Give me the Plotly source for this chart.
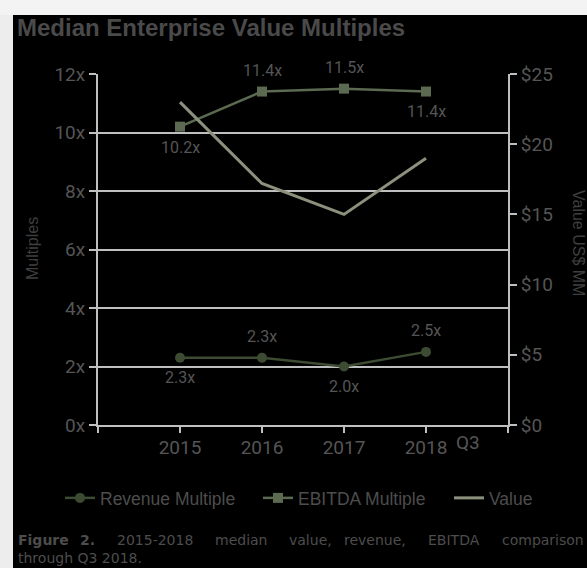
import plotly.graph_objects as go

categories = ["2015", "2016", "2017", "2018"]
revenue_multiple = [2.3, 2.3, 2.0, 2.5]
ebitda_multiple = [10.2, 11.4, 11.5, 11.4]
value_mm = [23.0, 17.2, 15.0, 19.0]
left_ticks = [0, 2, 4, 6, 8, 10, 12]
right_ticks = [0, 5, 10, 15, 20, 25]

W, H = 587, 568
L, R, T, B = 98, 79, 74, 143
PW, PH = W - L - R, H - T - B

def px(x):
    return (x - L) / PW

def py(y):
    return (H - B - y) / PH

xs = list(range(len(categories)))
GRID = "#bfbfbf"
TXT = "#4d4d4d"
TICK = "#555555"
C_REV = "#3c4b31"
C_EB = "#5b6a50"
C_VAL = "#8c917d"
LEG_FONT = dict(family="Liberation Sans", size=17.5, color=TXT)
TICK_FONT = dict(family="Roboto", size=19, color=TICK)
LBL_FONT = dict(family="Roboto", size=16, color=TICK)

fig = go.Figure()
fig.add_trace(go.Scatter(x=xs, y=revenue_multiple, name="Revenue Multiple", mode="lines+markers",
                         line=dict(color=C_REV, width=2.5), marker=dict(symbol="circle", size=10, color=C_REV),
                         cliponaxis=False, legend="legend"))
fig.add_trace(go.Scatter(x=xs, y=ebitda_multiple, name="EBITDA Multiple", mode="lines+markers",
                         line=dict(color=C_EB, width=2.5), marker=dict(symbol="square", size=10, color=C_EB),
                         cliponaxis=False, legend="legend2"))
fig.add_trace(go.Scatter(x=xs, y=value_mm, name="Value", mode="lines", yaxis="y2",
                         line=dict(color=C_VAL, width=3), cliponaxis=False, legend="legend3"))

annotations = []
rev_shift = [-20, 21, -20, 21]
eb_shift = [-21, 21, 21, -20]
for i, v in enumerate(revenue_multiple):
    annotations.append(dict(x=xs[i], y=v, xref="x", yref="y", text=f"{v:.1f}x", showarrow=False,
                            xanchor="center", yanchor="middle", yshift=rev_shift[i], font=LBL_FONT))
for i, v in enumerate(ebitda_multiple):
    annotations.append(dict(x=xs[i], y=v, xref="x", yref="y", text=f"{v:.1f}x", showarrow=False,
                            xanchor="center", yanchor="middle", yshift=eb_shift[i], font=LBL_FONT))

annotations.append(dict(x=px(15), y=py(28), xref="paper", yref="paper", xanchor="left", yanchor="middle",
                        text="<b>Median Enterprise Value Multiples</b>", showarrow=False,
                        font=dict(family="Liberation Sans", size=24, color="#4a4a4a")))
annotations.append(dict(x=px(32), y=py(249), xref="paper", yref="paper", textangle=-90,
                        xanchor="center", yanchor="middle",
                        text="Multiples", showarrow=False, font=dict(family="Liberation Sans", size=16, color="#3f3f3f")))
annotations.append(dict(x=px(579), y=py(243), xref="paper", yref="paper", textangle=90,
                        xanchor="center", yanchor="middle",
                        text="Value US$ MM", showarrow=False, font=dict(family="Liberation Sans", size=16, color="#3f3f3f")))
annotations.append(dict(x=px(468), y=py(442), xref="paper", yref="paper", xanchor="center", yanchor="middle",
                        text="Q3", showarrow=False, font=TICK_FONT))

cap_words = ["<b>Figure</b>", "<b>2.</b>", "2015-2018", "median", "value,", "revenue,", "EBITDA", "comparison"]
cap_x = [16, 78, 115, 213, 287, 342, 426, 500]
for wtxt, wx in zip(cap_words, cap_x):
    annotations.append(dict(x=px(wx), y=py(540), xref="paper", yref="paper", xanchor="left", yanchor="middle",
                            text=wtxt, showarrow=False, font=dict(family="DejaVu Sans", size=14, color=TXT)))
annotations.append(dict(x=px(16), y=py(558), xref="paper", yref="paper", xanchor="left", yanchor="middle",
                        text="through Q3 2018.", showarrow=False, align="left",
                        font=dict(family="DejaVu Sans", size=14, color=TXT)))

def leg(xpix):
    return dict(orientation="h", x=px(xpix), xanchor="left", y=py(498), yanchor="middle",
                font=LEG_FONT, bgcolor="rgba(0,0,0,0)", itemwidth=30)

fig.update_layout(
    width=W, height=H,
    margin=dict(l=L, r=R, t=T, b=B),
    paper_bgcolor="#000000",
    plot_bgcolor="#000000",
    showlegend=True,
    legend=leg(60),
    legend2=leg(258),
    legend3=leg(449),
    xaxis=dict(range=[-1, 4], tickvals=[-1] + xs + [4], ticktext=[""] + categories + [""],
               showgrid=False, zeroline=False, showline=True, linecolor=GRID, linewidth=2,
               ticks="outside", ticklen=6, tickcolor=GRID, tickwidth=2, ticklabelstandoff=-2,
               tickfont=TICK_FONT),
    yaxis=dict(range=[0, 12], tickvals=left_ticks, ticktext=[f"{t}x" for t in left_ticks],
               showgrid=True, gridcolor=GRID, gridwidth=2,
               zeroline=False, showline=True, linecolor=GRID, linewidth=2,
               ticks="outside", ticklen=7, tickcolor=GRID, tickwidth=2,
               tickfont=TICK_FONT),
    yaxis2=dict(range=[0, 25], tickvals=right_ticks, ticktext=[f"${t}" for t in right_ticks],
                overlaying="y", side="right",
                showgrid=False, zeroline=False, showline=True, linecolor=GRID, linewidth=2,
                ticks="outside", ticklen=7, tickcolor=GRID, tickwidth=2,
                tickfont=TICK_FONT),
    shapes=[
        dict(type="rect", xref="paper", yref="paper", x0=px(-5), x1=px(13), y0=py(600), y1=py(-5),
             fillcolor="#ededed", line=dict(width=0), layer="above"),
        dict(type="rect", xref="paper", yref="paper", x0=px(-5), x1=px(600), y0=py(15), y1=py(-5),
             fillcolor="#f3f3f3", line=dict(width=0), layer="above"),
    ],
    annotations=annotations,
)

fig.write_html("out.html", config={"displayModeBar": False},
               post_script="document.body.style.margin='0';document.body.style.overflow='hidden';")
